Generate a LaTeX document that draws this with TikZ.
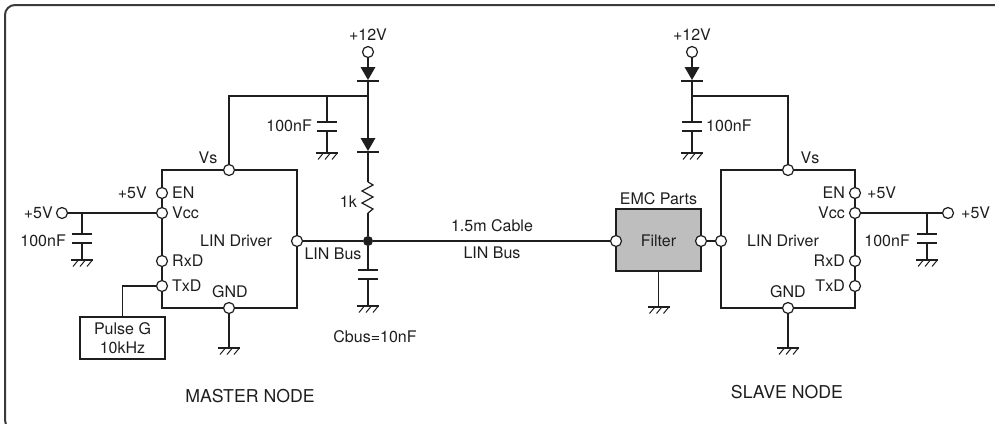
\documentclass[tikz,border=0pt]{standalone}
\usepackage{fontspec}
\setmainfont{TeX Gyre Heros}
\definecolor{ink}{HTML}{1E1E1E}
\definecolor{framec}{HTML}{3A3A3A}
\definecolor{filterc}{HTML}{BEBEBE}
\begin{document}
\begin{tikzpicture}[x=1pt,y=-1pt,
  wire/.style={line width=1.2pt, draw=ink},
  pin/.style={circle, draw=ink, line width=1.2pt, fill=white, minimum size=11pt, inner sep=0pt},
  jdot/.style={circle, fill=ink, minimum size=10pt, inner sep=0pt},
  lbl/.style={font=\fontsize{16}{19}\selectfont, text=ink, inner sep=0pt},
  big/.style={font=\fontsize{17.7}{21}\selectfont, text=ink, inner sep=0pt},
  gnd/.pic={\draw[wire] (-11,0)--(11,0);
            \foreach \u in {-7,0,7} \draw[line width=1pt,ink] (\u+3,0.5)--(\u-2,6.5);},
  diode/.pic={\fill[ink] (-7.5,0)--(7.5,0)--(0,13)--cycle;
              \draw[wire] (-11,14)--(11,14);},
  capv/.pic={\draw[wire] (-10,0)--(10,0) (-10,9)--(10,9);},
  res/.pic={\draw[wire,line join=miter] (0,0)--(5,3)--(-6,9)--(5,15)--(-6,21)--(5,27)--(0,31);}
]
\useasboundingbox (0,0) rectangle (995,423);
\draw[line width=2pt, draw=framec, rounded corners=10pt] (5,5) rectangle (1020,430);

% ================= MASTER =================
\draw[wire] (162,170) rectangle (297,308);
\node[lbl] at (236,241) {LIN Driver};
\node[pin] (mvs) at (229,170) {};
\node[pin] (men) at (162,193) {};
\node[pin] (mvcc) at (162,213) {};
\node[pin] (mrxd) at (162,261) {};
\node[pin] (mtxd) at (162,286) {};
\node[pin] (mgnd) at (229,308) {};
\node[pin] (mlin) at (297,241) {};
\node[lbl] at (208,158) {Vs};
\node[lbl,anchor=east] at (147,193) {+5V};
\node[lbl,anchor=west] at (172,193) {EN};
\node[lbl,anchor=west] at (172,213) {Vcc};
\node[lbl,anchor=west] at (172,261) {RxD};
\node[lbl,anchor=west] at (172,286) {TxD};
\node[lbl] at (230,292) {GND};
\node[lbl] at (333,254) {LIN Bus};

% +12V supply
\node[pin] (m12) at (368,52) {};
\node[lbl] at (368,35) {+12V};
\coordinate (md1) at (368,67);
\pic at (md1) {diode};
\coordinate (md1b) at (368,81);
\coordinate (mj1) at (368,96);
\coordinate (md2) at (368,138);
\pic at (md2) {diode};
\coordinate (md2b) at (368,152);
\coordinate (mr) at (368,182);
\pic at (mr) {res};
\coordinate (mrb) at (368,213);
\node[jdot] (mbus) at (368,241) {};
\node[lbl,anchor=east] at (357,202) {1k};
\draw[wire] (m12) -- (md1);
\draw[wire] (md1b) -- (mj1) -- (md2);
\draw[wire] (md2b) -- (mr);
\draw[wire] (mrb) -- (mbus);
\draw[wire] (mvs) |- (mj1);
% Vs cap
\coordinate (mcs) at (327,96);
\coordinate (mcsp) at (327,122);
\coordinate (mcsg) at (327,153);
\draw[wire] (mcs) -- (mcsp);
\pic at (mcsp) {capv};
\draw[wire] (327,131) -- (mcsg);
\pic at (mcsg) {gnd};
\node[lbl,anchor=east] at (312,126) {100nF};

% Vcc input
\node[pin] (m5) at (62,213) {};
\node[lbl,anchor=east] at (53,213) {+5V};
\coordinate (mcv) at (82,213);
\draw[wire] (m5) -- (mvcc);
\draw[wire] (mcv) -- (82,234);
\pic at (82,234) {capv};
\draw[wire] (82,243) -- (82,260);
\pic at (82,260) {gnd};
\node[lbl,anchor=east] at (66,241) {100nF};

% GND
\coordinate (mgg) at (229,348);
\draw[wire] (mgnd) -- (mgg);
\pic at (mgg) {gnd};

% Pulse generator
\node[draw=ink, line width=1.2pt, minimum width=85pt, minimum height=42pt, inner sep=0pt,
      align=center, lbl, font=\fontsize{16}{19}\selectfont] (pulse) at (122.5,338) {Pulse G\\10kHz};
\draw[wire] (mtxd) -| (pulse.north);

% Cbus
\draw[wire] (mbus) -- (368,270);
\pic at (368,270) {capv};
\draw[wire] (368,279) -- (368,306);
\pic at (368,306) {gnd};
\node[lbl] at (375,337) {Cbus=10nF};

\draw[wire] (mlin) -- (mbus);

% ================= FILTER =================
\node[draw=ink, line width=1.2pt, fill=filterc, minimum width=85pt, minimum height=62pt, inner sep=0pt] (filt) at (658.5,240) {};
\node[lbl] at (658.5,241) {Filter};
\node[lbl] at (658.5,199) {EMC Parts};
\node[pin] (fin) at (616,241) {};
\node[pin] (fout) at (701,241) {};
\coordinate (fg) at (658.5,307);
\draw[wire] (filt.south) -- (fg);
\pic at (fg) {gnd};

% cable
\draw[wire] (mbus) -- (fin);
\node[lbl] at (492,226) {1.5m Cable};
\node[lbl] at (492,253) {LIN Bus};

% ================= SLAVE =================
\draw[wire] (721,170) rectangle (855,308);
\node[lbl] at (783,241) {LIN Driver};
\node[pin] (svs) at (788,170) {};
\node[pin] (sen) at (855,193) {};
\node[pin] (svcc) at (855,213) {};
\node[pin] (srxd) at (855,261) {};
\node[pin] (stxd) at (855,286) {};
\node[pin] (sgnd) at (788,308) {};
\node[pin] (slin) at (721,241) {};
\draw[wire] (fout) -- (slin);
\node[lbl] at (810,158) {Vs};
\node[lbl,anchor=east] at (845,193) {EN};
\node[lbl,anchor=west] at (867,193) {+5V};
\node[lbl,anchor=east] at (845,213) {Vcc};
\node[lbl,anchor=east] at (845,261) {RxD};
\node[lbl,anchor=east] at (845,286) {TxD};
\node[lbl] at (788,292) {GND};

% +12V slave
\node[pin] (s12) at (692,52) {};
\node[lbl] at (692,35) {+12V};
\coordinate (sd1) at (692,67);
\pic at (sd1) {diode};
\coordinate (sd1b) at (692,81);
\coordinate (sj1) at (692,96);
\draw[wire] (s12) -- (sd1);
\draw[wire] (sd1b) -- (sj1) -- (692,122);
\pic at (692,122) {capv};
\draw[wire] (692,131) -- (692,153);
\pic at (692,153) {gnd};
\node[lbl,anchor=west] at (706,126) {100nF};
\draw[wire] (svs) |- (sj1);

% Vcc slave
\node[pin] (s5) at (948,213) {};
\node[lbl,anchor=west] at (961,213) {+5V};
\draw[wire] (svcc) -- (s5);
\draw[wire] (927,213) -- (927,234);
\pic at (927,234) {capv};
\draw[wire] (927,243) -- (927,260);
\pic at (927,260) {gnd};
\node[lbl,anchor=east] at (910,241) {100nF};

% GND slave
\coordinate (sgg) at (788,348);
\draw[wire] (sgnd) -- (sgg);
\pic at (sgg) {gnd};

% titles
\node[big] at (250,396) {MASTER NODE};
\node[big] at (787,392) {SLAVE NODE};
\end{tikzpicture}
\end{document}
